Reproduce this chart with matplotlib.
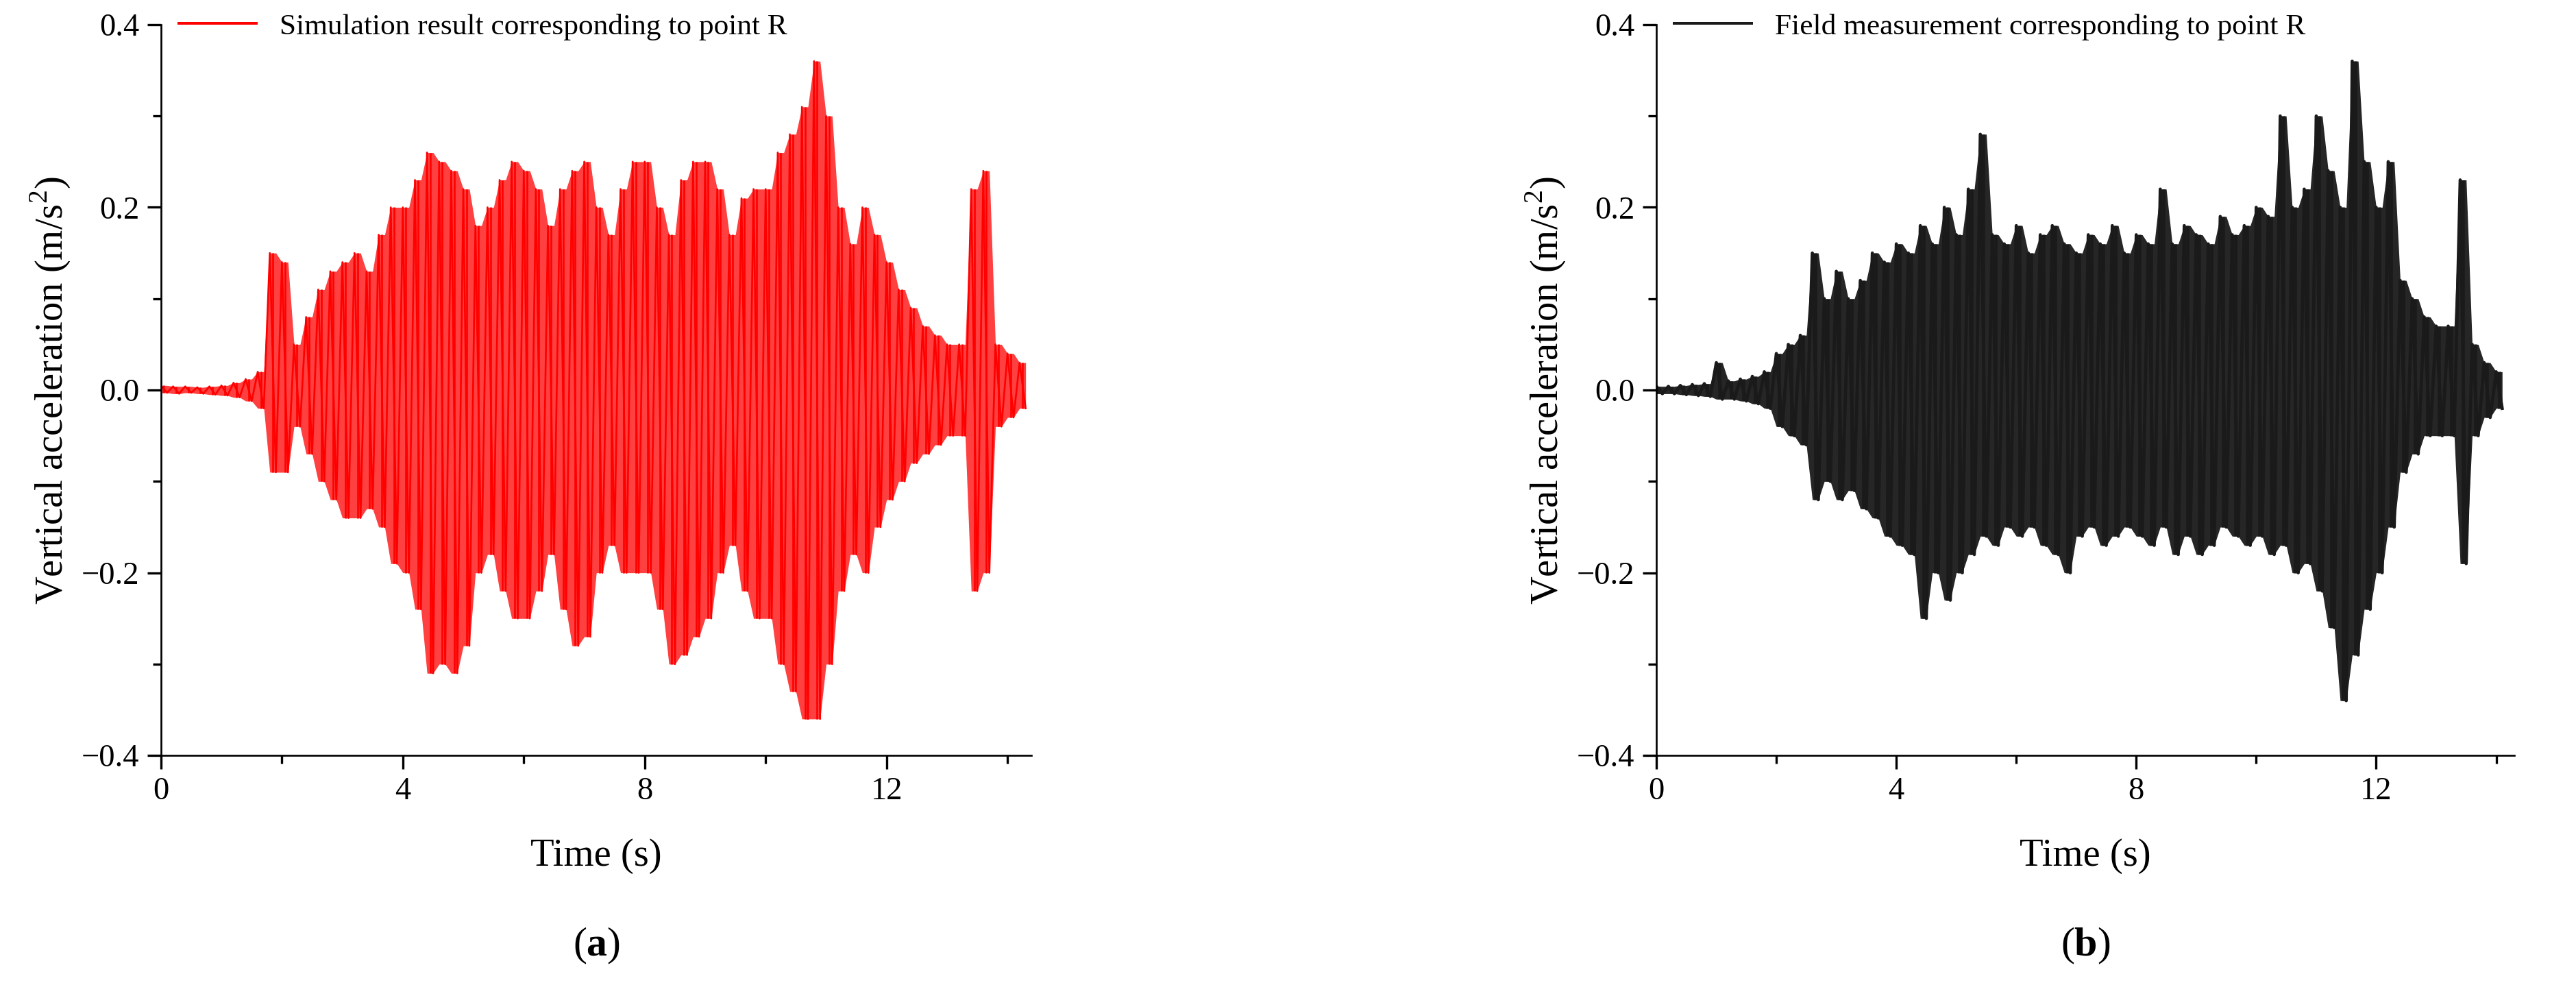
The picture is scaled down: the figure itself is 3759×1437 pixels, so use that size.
import numpy as np
import matplotlib.pyplot as plt
from matplotlib.lines import Line2D
from matplotlib.ticker import MultipleLocator, FuncFormatter

plt.rcParams['font.family'] = ['Liberation Serif', 'DejaVu Serif']
plt.rcParams['mathtext.fontset'] = 'custom'
plt.rcParams['mathtext.rm'] = 'Liberation Serif'
plt.rcParams['mathtext.bf'] = 'Liberation Serif:bold'

# envelope peaks, one value every 0.2 s
step = 0.2
sim_upper = [0.005, 0.004, 0.004, 0.003, 0.004, 0.005, 0.008, 0.012, 0.02,
             0.15, 0.14, 0.05, 0.08, 0.11, 0.13, 0.14, 0.15, 0.13, 0.17, 0.2,
             0.2, 0.23, 0.26, 0.25, 0.24, 0.22, 0.18, 0.2, 0.23, 0.25,
             0.24, 0.22, 0.18, 0.22, 0.24, 0.25, 0.2, 0.17, 0.22, 0.25,
             0.25, 0.2, 0.17, 0.23, 0.25, 0.25, 0.22, 0.17, 0.21, 0.22,
             0.22, 0.26, 0.28, 0.31, 0.36, 0.3, 0.2, 0.16, 0.2, 0.17,
             0.14, 0.11, 0.09, 0.07, 0.06, 0.05, 0.05, 0.22, 0.24, 0.05,
             0.04, 0.03]
sim_lower = [-0.003, -0.004, -0.003, -0.004, -0.005, -0.006, -0.008, -0.012, -0.02,
             -0.09, -0.09, -0.04, -0.07, -0.1, -0.12, -0.14, -0.14, -0.13, -0.15, -0.19,
             -0.2, -0.24, -0.31, -0.3, -0.31, -0.28, -0.2, -0.18, -0.22, -0.25,
             -0.25, -0.22, -0.18, -0.24, -0.28, -0.27, -0.2, -0.17, -0.2, -0.2,
             -0.2, -0.24, -0.3, -0.29, -0.27, -0.25, -0.2, -0.17, -0.22, -0.25,
             -0.25, -0.3, -0.33, -0.36, -0.36, -0.3, -0.22, -0.18, -0.2, -0.15,
             -0.12, -0.1, -0.08, -0.07, -0.06, -0.05, -0.05, -0.22, -0.2, -0.04,
             -0.03, -0.02]

meas_upper = [0.004, 0.004, 0.005, 0.006, 0.007, 0.03, 0.01, 0.012, 0.015,
              0.02, 0.04, 0.05, 0.06, 0.15, 0.1, 0.13, 0.1, 0.12, 0.15, 0.14,
              0.16, 0.15, 0.18, 0.16, 0.2, 0.17, 0.22, 0.28, 0.17, 0.16,
              0.18, 0.15, 0.17, 0.18, 0.16, 0.15, 0.17, 0.16, 0.18, 0.15,
              0.17, 0.16, 0.22, 0.16, 0.18, 0.17, 0.16, 0.19, 0.17, 0.18,
              0.2, 0.19, 0.3, 0.2, 0.22, 0.3, 0.24, 0.2, 0.36, 0.25,
              0.2, 0.25, 0.12, 0.1, 0.08, 0.07, 0.07, 0.23, 0.05, 0.03,
              0.02]
meas_lower = [-0.004, -0.004, -0.005, -0.006, -0.007, -0.01, -0.01, -0.012, -0.015,
              -0.02, -0.04, -0.05, -0.06, -0.12, -0.1, -0.12, -0.11, -0.13, -0.14, -0.16,
              -0.17, -0.18, -0.25, -0.2, -0.23, -0.2, -0.18, -0.16, -0.17, -0.15,
              -0.16, -0.15, -0.17, -0.18, -0.2, -0.16, -0.15, -0.17, -0.16, -0.15,
              -0.16, -0.17, -0.15, -0.18, -0.16, -0.18, -0.17, -0.15, -0.16, -0.17,
              -0.16, -0.18, -0.17, -0.2, -0.19, -0.22, -0.26, -0.34, -0.29, -0.24,
              -0.2, -0.15, -0.09, -0.07, -0.05, -0.05, -0.05, -0.19, -0.05, -0.03,
              -0.02]

panels = [
    dict(upper=sim_upper, lower=sim_lower, color='#ff0000', lw=0.8, xmax=14.4,
         fill=0.75, label='Simulation result corresponding to point R', tag='a'),
    dict(upper=meas_upper, lower=meas_lower, color='#1a1a1a', lw=1.4, xmax=14.3,
         fill=0.95, label='Field measurement corresponding to point R', tag='b'),
]

fig = plt.figure(figsize=(3759 / 240, 1437 / 240), dpi=240)
rects = [[0.0625, 0.233, 0.338, 0.742], [0.643, 0.233, 0.333, 0.742]]

for rect, p in zip(rects, panels):
    ax = fig.add_axes(rect)
    up = np.array(p['upper'])
    lo = np.array(p['lower'])
    t = np.arange(len(up)) * step
    # zigzag between the peaks, half a step apart
    tz = np.empty(2 * len(t))
    tz[0::2] = t
    tz[1::2] = t + step / 2
    yz = np.empty(2 * len(t))
    yz[0::2] = up
    yz[1::2] = lo
    ax.fill_between(tz, np.minimum.accumulate(yz[::-1])[::-1] * 0 + np.repeat(lo, 2),
                    np.repeat(up, 2), color=p['color'], alpha=p['fill'], lw=0)
    ax.plot(tz, yz, color=p['color'], lw=p['lw'])
    ax.vlines(t + step / 4, lo, up, color=p['color'], lw=p['lw'])
    ax.set_xlim(0, p['xmax'])
    ax.set_ylim(-0.4, 0.4)
    for s in ['top', 'right']:
        ax.spines[s].set_visible(False)
    ax.xaxis.set_major_locator(MultipleLocator(4))
    ax.xaxis.set_minor_locator(MultipleLocator(2))
    ax.yaxis.set_major_locator(MultipleLocator(0.2))
    ax.yaxis.set_minor_locator(MultipleLocator(0.1))
    ax.yaxis.set_major_formatter(FuncFormatter(lambda v, _: f'{v:.1f}'.replace('-', '\u2212')))
    ax.tick_params(which='major', length=6, width=1, labelsize=14)
    ax.tick_params(which='minor', length=3.5, width=1)
    ax.set_xlabel('Time (s)', fontsize=17, labelpad=14)
    ax.set_ylabel('Vertical acceleration (m/s$^2$)', fontsize=17)
    h = Line2D([], [], color=p['color'], lw=1.2)
    ax.legend([h], [p['label']], loc='upper left', frameon=False, fontsize=13,
              bbox_to_anchor=(0.0, 1.04), handlelength=2.6, borderaxespad=0.2)
    cx = rect[0] + rect[2] / 2
    fig.text(cx, 0.03, f'($\\mathbf{{{p["tag"]}}}$)', ha='center', fontsize=18)

fig.savefig('out.png')
